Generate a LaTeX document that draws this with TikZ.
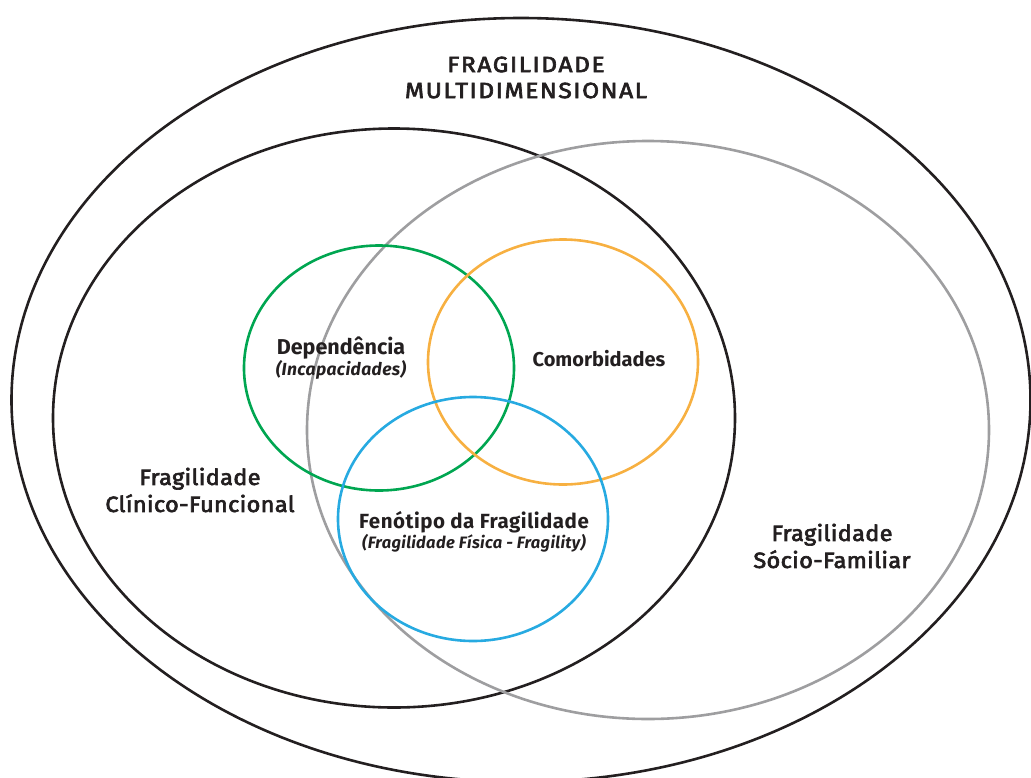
\documentclass[tikz,border=0pt]{standalone}
\usepackage{fontspec}
\setmainfont{Fira Sans}
\usetikzlibrary{shapes.geometric}
\definecolor{ink}{HTML}{231F20}
\definecolor{cgreen}{HTML}{00A651}
\definecolor{corange}{HTML}{F7B041}
\definecolor{cblue}{HTML}{27AAE1}
\definecolor{cgray}{HTML}{9E9EA0}
\newfontfamily\labfont[FakeStretch=1.07,LetterSpace=1.5,FakeBold=3]{Fira Sans}
\newfontfamily\titfont[FakeStretch=1.12,LetterSpace=7,FakeBold=3]{Fira Sans}
\newcommand\subfnt[1]{\fontsize{#1}{#1}\selectfont\bfseries\itshape}
\tikzset{
  ring/.style={ellipse, draw, line width=2.6pt, inner sep=0pt, outer sep=0pt},
  lab/.style={text=ink, align=center, inner sep=0pt,
    font=\labfont\fontsize{22}{27}\selectfont},
  inlab/.style={text=ink, align=center, inner sep=0pt}
}
\begin{document}
\begin{tikzpicture}[x=1pt,y=-1pt]
\useasboundingbox (0,0) rectangle (1031,777);
\clip (0,0) rectangle (1031,777);
\node[ring, ink, minimum width=1019pt, minimum height=764pt] (multi) at (521,400) {};
\node[ring, ink, minimum width=682pt, minimum height=579pt] (clin) at (394,418) {};
\node[ring, cgray, minimum width=682pt, minimum height=578pt] (socio) at (648,430) {};
\node[ring, cgreen, minimum width=270pt, minimum height=245pt] (dep) at (379,368) {};
\node[ring, corange, minimum width=270pt, minimum height=245pt] (com) at (563,362) {};
\node[ring, cblue, minimum width=270pt, minimum height=244pt] (fen) at (473,519) {};
\node[lab, font=\titfont\fontsize{22}{26}\selectfont] (t) at (526,77.5) {FRAGILIDADE\\MULTIDIMENSIONAL};
\node[lab] (tc) at (200,490) {Fragilidade\\Clínico-Funcional};
\node[lab] (ts) at (832,546) {Fragilidade\\Sócio-Familiar};
\node[inlab, font=\fontsize{21.5}{21}\selectfont\bfseries] (td) at (341,358) {Dependência\\{\subfnt{17.5}\addfontfeature{LetterSpace=2}(Incapacidades)}};
\node[inlab, font=\fontsize{20}{20}\selectfont\bfseries] (tm) at (599,358.5) {Comorbidades};
\node[inlab, font=\fontsize{20.5}{18}\selectfont\bfseries\addfontfeature{LetterSpace=2.5}] (tf) at (474,532) {Fenótipo da Fragilidade\\{\subfnt{16.5}\addfontfeature{LetterSpace=2}(Fragilidade Física - Fragility)}};
\end{tikzpicture}
\end{document}
